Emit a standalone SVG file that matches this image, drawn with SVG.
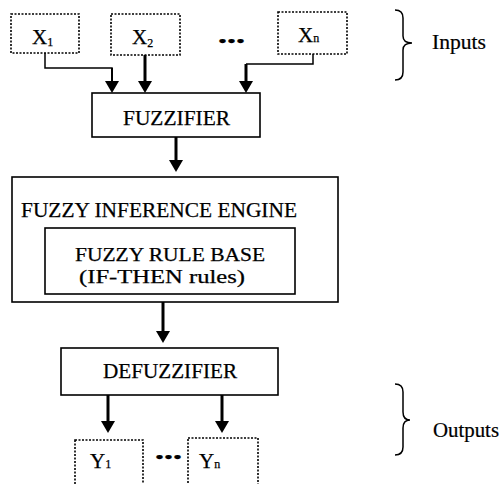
<svg xmlns="http://www.w3.org/2000/svg" width="500" height="484" viewBox="0 0 500 484">
<style>
text{font-family:"Liberation Serif","Times New Roman",serif;fill:#000;stroke:#000;stroke-width:0.25}
.lbl{font-size:21px}
.rb{font-size:18px}
.side{font-size:20px;stroke-width:0.2}
.box{fill:#fff;stroke:#000;stroke-width:1.6}
.dbox{fill:#fff;stroke:#000;stroke-width:1.6;stroke-dasharray:2 1.5}
.thin{fill:none;stroke:#000;stroke-width:1.5}
.thick{fill:none;stroke:#000;stroke-width:3}
.var{font-size:21px}
.sub{font-size:12px}
.dots{font-size:16px}
</style>
<defs>
<marker id="ah" markerUnits="userSpaceOnUse" markerWidth="12" markerHeight="14" viewBox="0 0 12 14" refX="2" refY="7" orient="auto">
<path d="M0,0 L12,7 L0,14 z" fill="#000"/>
</marker>
</defs>

<g id="connectors">
<polyline class="thin" points="45,53 45,68 112,68 112,76"/>
<line class="thin" x1="112" y1="68" x2="112" y2="83" style="stroke-width:2" marker-end="url(#ah)"/>
<line class="thick" x1="145" y1="55" x2="145" y2="83" marker-end="url(#ah)"/>
<polyline class="thin" points="313,54 313,64 246,64"/>
<line class="thick" x1="246" y1="64" x2="246" y2="83" marker-end="url(#ah)"/>
<line class="thick" x1="176" y1="137" x2="176" y2="162" marker-end="url(#ah)"/>
<line class="thick" x1="163" y1="302" x2="163" y2="333" marker-end="url(#ah)"/>
<line class="thick" x1="108" y1="395" x2="108" y2="423" marker-end="url(#ah)"/>
<line class="thick" x1="222" y1="395" x2="222" y2="423" marker-end="url(#ah)"/>
</g>

<g id="x1">
<rect class="dbox" x="11" y="14" width="68" height="39"/>
<text class="var" x="32" y="44">X<tspan class="sub" dy="2">1</tspan></text>
</g>
<g id="x2">
<rect class="dbox" x="111" y="14" width="69" height="41"/>
<text class="var" x="132" y="44">X<tspan class="sub" dy="3">2</tspan></text>
</g>
<g id="xdots">
<text class="dots" x="218" y="47" textLength="27" lengthAdjust="spacingAndGlyphs">•••</text>
</g>
<g id="xn">
<rect class="dbox" x="278" y="12" width="69" height="42"/>
<text class="var" x="298" y="42">X<tspan class="sub">n</tspan></text>
</g>

<g id="inputs">
<path class="thin" d="M395,10 Q403,10 403,18 L403,36 Q403,43 412,43 Q403,43 403,50 L403,72 Q403,80 395,80"/>
<text class="side" x="432" y="49" textLength="54" lengthAdjust="spacingAndGlyphs">Inputs</text>
</g>

<g id="fuzzifier">
<rect class="box" x="92" y="93" width="168" height="44"/>
<text class="lbl" x="123" y="125" textLength="107" lengthAdjust="spacingAndGlyphs">FUZZIFIER</text>
</g>

<g id="engine">
<rect class="box" x="12" y="177" width="326" height="125"/>
<text class="lbl" x="21" y="217" textLength="276" lengthAdjust="spacingAndGlyphs">FUZZY INFERENCE ENGINE</text>
</g>

<g id="rulebase">
<rect class="box" x="45" y="228" width="250" height="66"/>
<text class="rb" x="75" y="261" textLength="190" lengthAdjust="spacingAndGlyphs">FUZZY RULE BASE</text>
<text class="rb" x="79" y="283" textLength="166" lengthAdjust="spacingAndGlyphs">(IF-THEN rules)</text>
</g>

<g id="defuzzifier">
<rect class="box" x="61" y="348" width="217" height="47"/>
<text class="lbl" x="103" y="378" textLength="134" lengthAdjust="spacingAndGlyphs">DEFUZZIFIER</text>
</g>

<g id="y1">
<rect class="dbox" x="75" y="440" width="68" height="52"/>
<text class="var" x="90" y="468">Y<tspan class="sub">1</tspan></text>
</g>
<g id="ydots">
<text class="dots" x="155" y="463" textLength="27" lengthAdjust="spacingAndGlyphs">•••</text>
</g>
<g id="yn">
<rect class="dbox" x="188" y="438" width="70" height="54"/>
<text class="var" x="199" y="468">Y<tspan class="sub">n</tspan></text>
</g>

<g id="outputs">
<path class="thin" d="M395,384 Q403,384 403,392 L403,412 Q403,420 410,420 Q403,420 403,428 L403,447 Q403,455 395,455"/>
<text class="side" x="433" y="437" textLength="66" lengthAdjust="spacingAndGlyphs">Outputs</text>
</g>
</svg>
